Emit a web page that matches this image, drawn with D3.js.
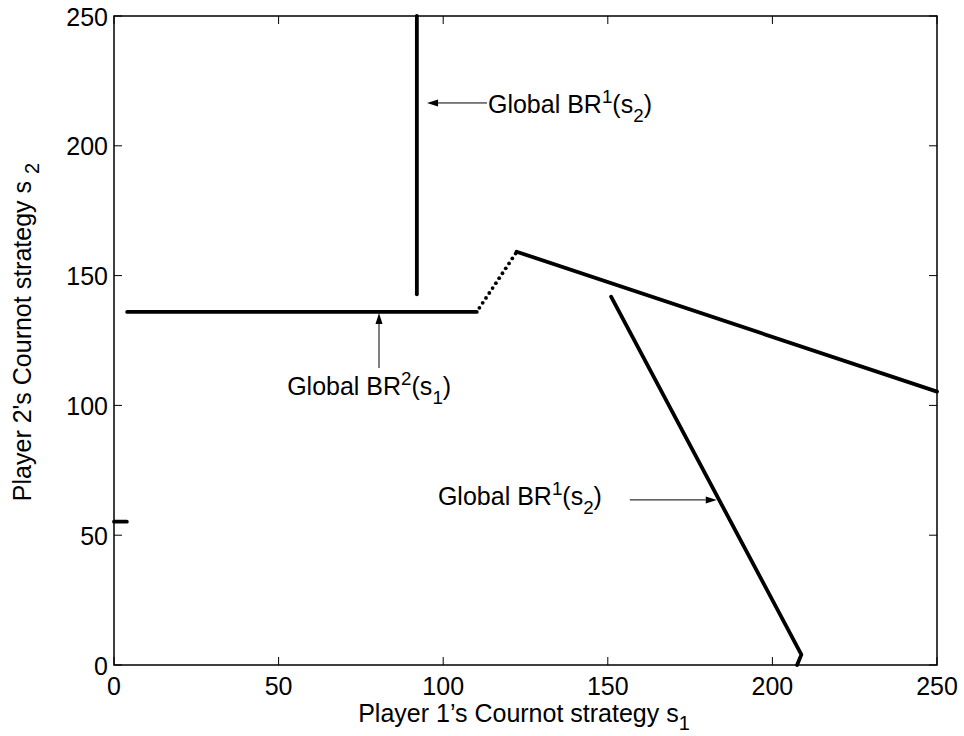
<!DOCTYPE html>
<html>
<head>
<meta charset="utf-8">
<script src="https://cdn.jsdelivr.net/npm/d3@7"></script>
<style>
  html, body { margin: 0; padding: 0; background: #fff; }
  svg { display: block; }
  text { font-family: "Liberation Sans", Arial, Helvetica, sans-serif; fill: #000; }
</style>
</head>
<body>
<svg id="chart" width="964" height="736"></svg>
<script>
// Player 2's best response to s1, split into its pieces
const br2LowS1 = [0, 3.9];
const br2LowS2 = [55.2, 55.2];
const br2FlatS1 = [4, 110.2];
const br2FlatS2 = [136, 136];
const br2RiseS1 = [111, 112, 113, 114, 115, 116, 117, 118, 119, 120, 121, 122];
const br2RiseS2 = [137.6, 139.5, 141.4, 143.3, 145.2, 147.1, 149.0, 150.9, 152.8, 154.7, 156.6, 158.5];
const br2FallS1 = [122.3, 250];
const br2FallS2 = [159.2, 105.3];

// Player 1's best response to s2
const br1VertS1 = [92, 92];
const br1VertS2 = [142.8, 250];
const br1SteepS1 = [151, 208.8, 207.5];
const br1SteepS2 = [141.9, 4, 0];

// Axis ticks
const xTicks = [0, 50, 100, 150, 200, 250];
const yTicks = [0, 50, 100, 150, 200, 250];

const svg = d3.select("#chart");
const plotL = 114, plotR = 937, plotT = 16, plotB = 665;

const x = d3.scaleLinear().domain([0, 250]).range([plotL, plotR]);
const y = d3.scaleLinear().domain([0, 250]).range([plotB, plotT]);

const FONT = 25;
const ink = "#000";

// Frame
svg.append("rect")
  .attr("x", plotL).attr("y", plotT)
  .attr("width", plotR - plotL).attr("height", plotB - plotT)
  .attr("fill", "none").attr("stroke", ink).attr("stroke-width", 1.5);

// Inward ticks on all four sides
const tickLen = 8;
const ticks = svg.append("g").attr("stroke", ink).attr("stroke-width", 1);
xTicks.forEach(v => {
  ticks.append("line").attr("x1", x(v)).attr("x2", x(v)).attr("y1", plotB).attr("y2", plotB - tickLen);
  ticks.append("line").attr("x1", x(v)).attr("x2", x(v)).attr("y1", plotT).attr("y2", plotT + tickLen);
});
yTicks.forEach(v => {
  ticks.append("line").attr("y1", y(v)).attr("y2", y(v)).attr("x1", plotL).attr("x2", plotL + tickLen);
  ticks.append("line").attr("y1", y(v)).attr("y2", y(v)).attr("x1", plotR).attr("x2", plotR - tickLen);
});

// Tick labels
svg.append("g").selectAll("text").data(xTicks).join("text")
  .attr("x", d => x(d)).attr("y", 694.5)
  .attr("text-anchor", "middle").attr("font-size", FONT)
  .text(d => d);
svg.append("g").selectAll("text").data(yTicks).join("text")
  .attr("x", 108).attr("y", d => y(d) + 9.5)
  .attr("text-anchor", "end").attr("font-size", FONT)
  .text(d => d);

// Axis titles
const xt = svg.append("text")
  .attr("x", 524).attr("y", 722)
  .attr("text-anchor", "middle").attr("font-size", FONT);
xt.append("tspan").text("Player 1\u2019s Cournot strategy s");
xt.append("tspan").attr("dy", 8).attr("font-size", FONT * 0.8).text("1");

const yt = svg.append("text")
  .attr("transform", "translate(31,332) rotate(-90)")
  .attr("text-anchor", "middle").attr("font-size", FONT);
yt.append("tspan").text("Player 2's Cournot strategy s");
yt.append("tspan").attr("dx", 7).attr("dy", 8).attr("font-size", FONT * 0.8).text("2");

// Curves
const plot = svg.append("g");
const line = d3.line().x(d => x(d[0])).y(d => y(d[1]));
const pieces = [
  [br2LowS1, br2LowS2],
  [br2FlatS1, br2FlatS2],
  [br2FallS1, br2FallS2],
  [br1VertS1, br1VertS2],
  [br1SteepS1, br1SteepS2]
];
pieces.forEach(([xs, ys]) => {
  plot.append("path")
    .datum(xs.map((v, i) => [v, ys[i]]))
    .attr("d", line)
    .attr("fill", "none").attr("stroke", ink)
    .attr("stroke-width", 3.8)
    .attr("stroke-linecap", "round").attr("stroke-linejoin", "round");
});
plot.selectAll("circle.rise")
  .data(br2RiseS1.map((v, i) => [v, br2RiseS2[i]]))
  .join("circle").attr("class", "rise")
  .attr("cx", d => x(d[0])).attr("cy", d => y(d[1]))
  .attr("r", 1.9).attr("fill", ink);

// Annotations: label text with an arrow pointing to the curve
const notes = [
  { sup: "1", sub: "2", tx: 113.6, ty: 212.6, from: [113.3, 216.5], to: [95.1, 216.5] },
  { sup: "2", sub: "1", tx: 52.6, ty: 104.0, from: [80.5, 114.4], to: [80.5, 135.6] },
  { sup: "1", sub: "2", tx: 98.4, ty: 61.6, from: [156.7, 63.6], to: [183.1, 63.6] }
];
notes.forEach(n => {
  const t = svg.append("text").attr("x", x(n.tx)).attr("y", y(n.ty)).attr("font-size", FONT);
  t.append("tspan").text("Global BR");
  t.append("tspan").attr("dy", -10).attr("font-size", FONT * 0.75).text(n.sup);
  t.append("tspan").attr("dy", 10).text("(s");
  t.append("tspan").attr("dy", 9).attr("font-size", FONT * 0.75).text(n.sub);
  t.append("tspan").attr("dy", -9).text(")");

  const x1 = x(n.from[0]), y1 = y(n.from[1]), x2 = x(n.to[0]), y2 = y(n.to[1]);
  const ang = Math.atan2(y2 - y1, x2 - x1);
  const hl = 11, hw = 3.5;
  const bx = x2 - hl * Math.cos(ang), by = y2 - hl * Math.sin(ang);
  svg.append("line").attr("x1", x1).attr("y1", y1).attr("x2", bx).attr("y2", by)
    .attr("stroke", ink).attr("stroke-width", 1);
  svg.append("path")
    .attr("d", `M${x2},${y2}L${bx - hw * Math.sin(ang)},${by + hw * Math.cos(ang)}L${bx + hw * Math.sin(ang)},${by - hw * Math.cos(ang)}Z`)
    .attr("fill", ink);
});
</script>
</body>
</html>
